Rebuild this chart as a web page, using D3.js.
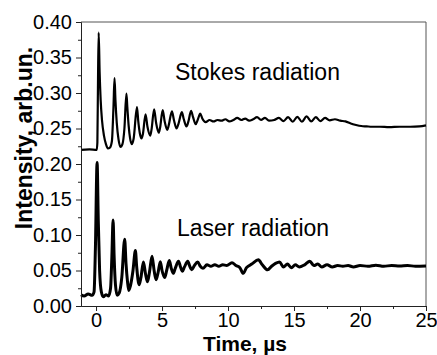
<!DOCTYPE html>
<html>
<head>
<meta charset="utf-8">
<script src="https://cdn.jsdelivr.net/npm/d3@7"></script>
<style>
  body { margin: 0; background: #fff; }
  svg { display: block; font-family: "Liberation Sans", Arial, sans-serif; }
</style>
</head>
<body>
<svg id="chart" width="437" height="355"></svg>
<script>
// time (us) and intensity (arb.un.)
var stokes = [
  [-1.14, 0.220], [-0.5, 0.2205], [0.05, 0.220], [0.1, 0.230], [0.15, 0.32], [0.2, 0.385],
  [0.27, 0.33], [0.35, 0.29], [0.45, 0.262], [0.6, 0.24], [0.75, 0.228], [0.9, 0.222],
  [1.05, 0.223], [1.2, 0.232], [1.32, 0.28], [1.4, 0.321], [1.47, 0.29], [1.57, 0.258],
  [1.7, 0.235], [1.85, 0.224], [2.0, 0.228], [2.15, 0.25], [2.3, 0.299], [2.37, 0.28],
  [2.47, 0.254], [2.58, 0.236], [2.7, 0.228], [2.85, 0.236], [3.1, 0.280], [3.2, 0.26],
  [3.32, 0.243], [3.45, 0.236], [3.55, 0.242], [3.75, 0.270], [3.9, 0.252], [4.1, 0.240],
  [4.2, 0.248], [4.4, 0.277], [4.55, 0.258], [4.75, 0.244], [4.85, 0.251], [5.05, 0.276],
  [5.2, 0.260], [5.4, 0.248], [5.5, 0.254], [5.75, 0.274], [5.9, 0.262], [6.1, 0.250],
  [6.25, 0.257], [6.5, 0.273], [6.65, 0.263], [6.85, 0.253], [7.0, 0.260], [7.2, 0.275],
  [7.35, 0.266], [7.55, 0.256], [7.7, 0.262], [7.9, 0.271], [8.05, 0.264], [8.3, 0.259],
  [8.6, 0.262], [8.9, 0.260], [9.2, 0.262], [9.5, 0.261], [9.8, 0.263], [10.1, 0.260],
  [10.4, 0.262], [10.7, 0.265], [11.0, 0.262], [11.3, 0.264], [11.6, 0.261], [11.9, 0.263],
  [12.2, 0.266], [12.5, 0.262], [12.8, 0.265], [13.1, 0.261], [13.5, 0.262], [13.85, 0.265],
  [14.2, 0.2605], [14.55, 0.266], [14.9, 0.2595], [15.25, 0.2665], [15.6, 0.2595], [15.95, 0.267],
  [16.3, 0.260], [16.65, 0.266], [17.0, 0.2605], [17.35, 0.265], [17.7, 0.2615], [18.1, 0.263],
  [18.5, 0.261], [18.9, 0.260], [19.3, 0.257], [19.7, 0.255], [20.1, 0.2535], [20.5, 0.253],
  [20.9, 0.2525], [21.5, 0.2525], [22.2, 0.252], [23.0, 0.2525], [23.8, 0.2525], [24.5, 0.253],
  [25.0, 0.2545]
];

var laser = [
  [-1.14, 0.016], [-0.9, 0.014], [-0.6, 0.017], [-0.3, 0.015], [-0.15, 0.02], [-0.05, 0.08],
  [0.08, 0.202], [0.17, 0.12], [0.27, 0.05], [0.4, 0.02], [0.55, 0.013], [0.75, 0.016],
  [0.95, 0.014], [1.1, 0.025], [1.2, 0.07], [1.29, 0.121], [1.37, 0.07], [1.47, 0.03],
  [1.6, 0.015], [1.75, 0.018], [1.95, 0.04], [2.17, 0.094], [2.27, 0.06], [2.38, 0.035],
  [2.48, 0.022], [2.6, 0.028], [2.8, 0.05], [2.98, 0.078], [3.08, 0.055], [3.26, 0.030],
  [3.4, 0.04], [3.59, 0.062], [3.75, 0.045], [3.9, 0.034], [4.05, 0.048], [4.24, 0.070],
  [4.4, 0.05], [4.55, 0.037], [4.7, 0.047], [4.87, 0.0625], [5.0, 0.05], [5.2, 0.040],
  [5.35, 0.05], [5.55, 0.064], [5.7, 0.053], [5.85, 0.046], [6.0, 0.053], [6.25, 0.063],
  [6.4, 0.055], [6.55, 0.049], [6.7, 0.055], [6.95, 0.063], [7.1, 0.056], [7.25, 0.051],
  [7.45, 0.057], [7.7, 0.062], [7.9, 0.056], [8.1, 0.053], [8.4, 0.058], [8.7, 0.056],
  [9.0, 0.058], [9.3, 0.056], [9.6, 0.058], [9.9, 0.057], [10.3, 0.061], [10.6, 0.057],
  [10.9, 0.054], [11.15, 0.046], [11.4, 0.054], [11.8, 0.059], [12.3, 0.065], [12.6, 0.058],
  [13.0, 0.051], [13.3, 0.056], [13.6, 0.060], [13.9, 0.062], [14.2, 0.055], [14.5, 0.059],
  [14.8, 0.054], [15.1, 0.058], [15.4, 0.055], [15.8, 0.058], [16.2, 0.063], [16.5, 0.057],
  [16.8, 0.059], [17.1, 0.055], [17.5, 0.058], [17.9, 0.055], [18.3, 0.057], [18.7, 0.056],
  [19.1, 0.057], [19.5, 0.055], [20.0, 0.057], [20.6, 0.056], [21.2, 0.0575], [21.8, 0.056],
  [22.4, 0.057], [23.0, 0.0565], [23.6, 0.057], [24.2, 0.056], [25.0, 0.0565]
];

var xMajor = [0, 5, 10, 15, 20, 25];
var xMinor = [2.5, 7.5, 12.5, 17.5, 22.5];
var yMajor = [0, 0.05, 0.10, 0.15, 0.20, 0.25, 0.30, 0.35, 0.40];
var yMinor = [0.025, 0.075, 0.125, 0.175, 0.225, 0.275, 0.325, 0.375];

var svg = d3.select("#chart");
var mLeft = 81, mRight = 426, mTop = 22, mBottom = 306;

var x = d3.scaleLinear().domain([-1.14, 25]).range([mLeft, mRight]);
var y = d3.scaleLinear().domain([0, 0.40]).range([mBottom, mTop]);

// frame
svg.append("line").attr("x1", mLeft).attr("x2", mRight).attr("y1", mTop).attr("y2", mTop)
  .attr("stroke", "#555").attr("stroke-width", 1);
svg.append("line").attr("x1", mRight).attr("x2", mRight).attr("y1", mTop).attr("y2", mBottom)
  .attr("stroke", "#555").attr("stroke-width", 1);

var line = d3.line()
  .x(function(d){ return x(d[0]); })
  .y(function(d){ return y(d[1]); })
  .curve(d3.curveMonotoneX);

svg.append("path").datum(laser).attr("d", line)
  .attr("fill", "none").attr("stroke", "#000").attr("stroke-width", 3)
  .attr("stroke-linejoin", "round");
svg.append("path").datum(stokes).attr("d", line)
  .attr("fill", "none").attr("stroke", "#000").attr("stroke-width", 2.2)
  .attr("stroke-linejoin", "round");

// axes
var xAxis = d3.axisBottom(x).tickValues(xMajor).tickSize(5).tickSizeOuter(0)
  .tickPadding(2).tickFormat(d3.format("d"));
var xMinorAxis = d3.axisBottom(x).tickValues(xMinor).tickSize(3).tickSizeOuter(0).tickFormat("");
var yAxis = d3.axisLeft(y).tickValues(yMajor).tickSize(5).tickSizeOuter(0)
  .tickPadding(4).tickFormat(d3.format(".2f"));
var yMinorAxis = d3.axisLeft(y).tickValues(yMinor).tickSize(3).tickSizeOuter(0).tickFormat("");

function styleAxis(g) {
  g.selectAll("path, line").attr("stroke", "#222");
  g.selectAll("text").attr("fill", "#000").style("font-size", "20px")
    .style("font-family", "'Liberation Sans', Arial, sans-serif");
}

svg.append("g").attr("transform", "translate(0," + mBottom + ")").call(xMinorAxis).call(styleAxis);
svg.append("g").attr("transform", "translate(0," + mBottom + ")").call(xAxis).call(styleAxis);
svg.append("g").attr("transform", "translate(" + mLeft + ",0)").call(yMinorAxis).call(styleAxis);
svg.append("g").attr("transform", "translate(" + mLeft + ",0)").call(yAxis).call(styleAxis);

// axis titles
svg.append("text").attr("x", 245).attr("y", 351).attr("text-anchor", "middle")
  .style("font-size", "21px").style("font-weight", "bold").text("Time, \u00b5s");
svg.append("text").attr("transform", "translate(32,138) rotate(-90)").attr("text-anchor", "middle")
  .style("font-size", "23px").style("font-weight", "bold").text("Intensity, arb.un.");

// annotations
svg.append("text").attr("x", 175).attr("y", 80).style("font-size", "23px").text("Stokes radiation");
svg.append("text").attr("x", 177).attr("y", 236).style("font-size", "23px").text("Laser radiation");
</script>
</body>
</html>
